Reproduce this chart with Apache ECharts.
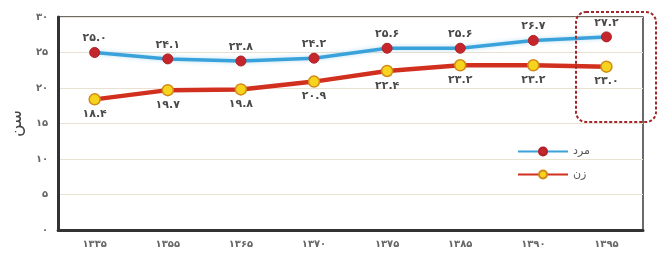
<!DOCTYPE html>
<html>
<head>
<meta charset="utf-8">
<title>age chart</title>
<script src="https://cdn.jsdelivr.net/npm/echarts@6/dist/echarts.min.js"></script>
</head>
<body style="margin:0;background:#fff">
<div id="main" style="width:661px;height:258px;"></div>
<script type="text/javascript">
// data
var years = ['1335', '1355', '1365', '1370', '1375', '1385', '1390', '1395'];
var men = [25.0, 24.1, 23.8, 24.2, 25.6, 25.6, 26.7, 27.2];
var women = [18.4, 19.7, 19.8, 20.9, 22.4, 23.2, 23.2, 23.0];

function fa(s) {
  return String(s).replace(/[0-9]/g, function (d) {
    return '۰۱۲۳۴۵۶۷۸۹'[+d];
  });
}

var chart = echarts.init(document.getElementById('main'));
var font = 'DejaVu Sans';

var option = {
  animation: false,
  backgroundColor: '#fff',
  textStyle: { fontFamily: font },
  grid: {
    left: 50, right: 18, top: 17, bottom: 28,
    show: true, borderColor: '#3a3a3a', borderWidth: 1.5
  },
  legend: {
    orient: 'vertical',
    left: 512, top: 141,
    itemWidth: 50, itemHeight: 10, itemGap: 12,
    textStyle: { color: '#555', fontSize: 11, fontFamily: font },
    data: ['مرد', 'زن']
  },
  xAxis: {
    type: 'category',
    data: years.map(fa),
    axisLine: { lineStyle: { color: '#333', width: 3 } },
    axisTick: { show: false },
    axisLabel: { color: '#666', fontSize: 10, fontWeight: 'bold', margin: 9 }
  },
  yAxis: {
    type: 'value',
    min: 0, max: 30, interval: 5,
    name: 'سن',
    nameLocation: 'middle',
    nameGap: 30,
    nameTextStyle: { color: '#444', fontSize: 17, fontFamily: font },
    axisLine: { show: true, lineStyle: { color: '#333', width: 3 } },
    axisTick: { show: false },
    axisLabel: {
      color: '#666', fontSize: 10, fontWeight: 'bold', margin: 10,
      formatter: function (v) { return fa(v); }
    },
    splitLine: { lineStyle: { color: '#e9e2d3', width: 1.2 } }
  },
  series: [
    {
      name: 'مرد',
      type: 'line',
      data: men,
      symbol: 'circle',
      symbolSize: 10,
      lineStyle: { color: '#3aa2da', width: 3.5, shadowColor: 'rgba(58,162,218,0.35)', shadowBlur: 4 },
      itemStyle: { color: '#c4262c', borderColor: '#b02028', borderWidth: 1 },
      label: {
        show: true, position: 'top', distance: 3,
        color: '#4a4a4a', fontSize: 11, fontWeight: 'bold',
        formatter: function (p) { return fa(p.value.toFixed(1)); }
      }
    },
    {
      name: 'زن',
      type: 'line',
      data: women,
      symbol: 'circle',
      symbolSize: 11,
      lineStyle: { color: '#d2301f', width: 4.5 },
      itemStyle: { color: '#f6d31c', borderColor: '#d08a18', borderWidth: 1.5 },
      label: {
        show: true, position: 'bottom', distance: 3,
        color: '#4a4a4a', fontSize: 11, fontWeight: 'bold',
        formatter: function (p) { return fa(p.value.toFixed(1)); }
      }
    }
  ],
  graphic: [
    {
      type: 'rect',
      shape: { x: 576, y: 12, width: 80, height: 110, r: 10 },
      style: { fill: 'none', stroke: '#a3262a', lineWidth: 2, lineDash: [3, 2] },
      z: 10
    }
  ]
};

chart.setOption(option);
</script>
</body>
</html>
